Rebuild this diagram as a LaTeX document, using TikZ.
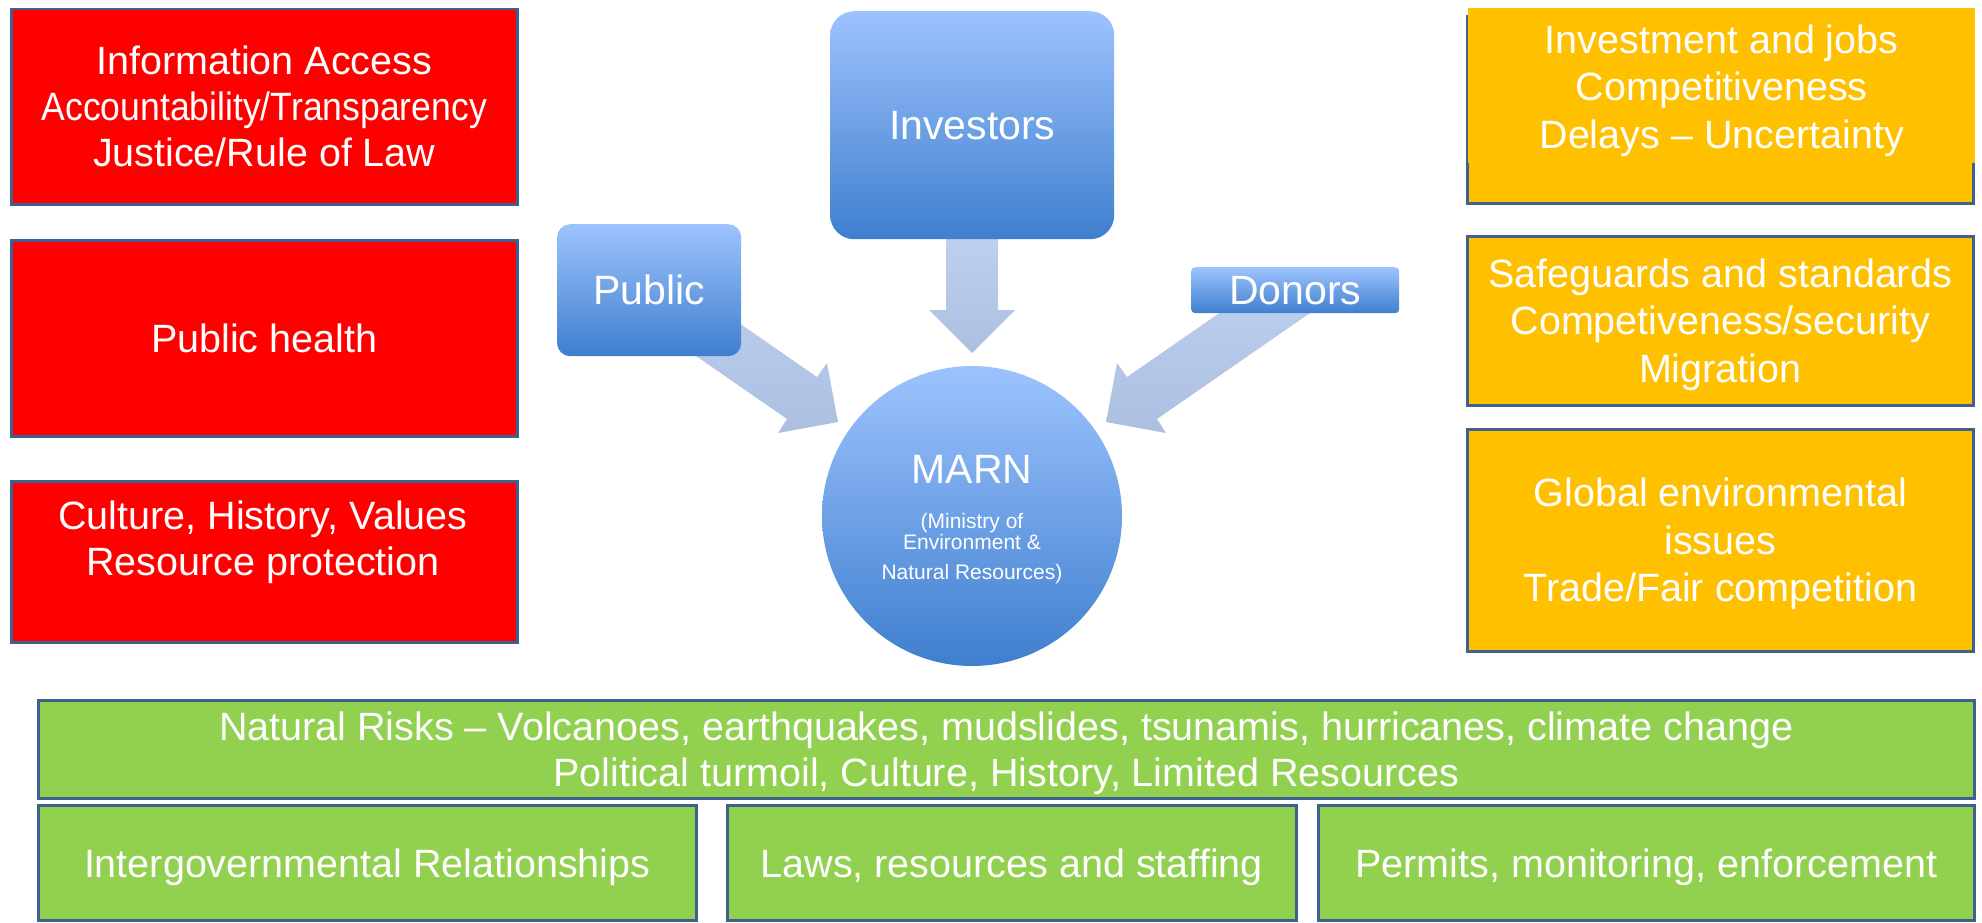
\documentclass[tikz,border=0pt]{standalone}
\usepackage{fontspec}
\setmainfont{Liberation Sans}
\usetikzlibrary{calc}
\definecolor{bord}{HTML}{3F6190}
\definecolor{rbox}{HTML}{FF0000}
\definecolor{obox}{HTML}{FFC000}
\definecolor{gbox}{HTML}{92D050}
\definecolor{btop}{HTML}{9DC3FE}
\definecolor{bbot}{HTML}{3F7FCE}
\definecolor{atop}{HTML}{BFD1F1}
\definecolor{abot}{HTML}{ADBFE0}
\begin{document}
\begin{tikzpicture}[x=1pt,y=-1pt,
  box/.style={draw=bord, line width=2.5pt, inner sep=0pt, anchor=north west},
  plain/.style={inner sep=0pt, text=white, align=center},
  bluebox/.style={top color=btop, bottom color=bbot, draw=none, inner sep=0pt, text=white, align=center, anchor=north west},
  blockarrow/.style={top color=atop, bottom color=abot, draw=none},
  fred/.style={font=\fontsize{39.5}{46}\selectfont},
  fora/.style={font=\fontsize{39.5}{47.5}\selectfont},
  fgreen/.style={font=\fontsize{39.5}{45.5}\selectfont},
  fblue/.style={font=\fontsize{41}{48}\selectfont},
  fsmall/.style={font=\fontsize{21}{21}\selectfont}]
\useasboundingbox (0,0) rectangle (1982,923);

% red boxes
\node[box, fill=rbox, minimum width=506pt, minimum height=195pt] (r1) at (10,8) {};
\node[plain, fred] (r1t) at (r1.center)
  {Information Access\\\scalebox{0.9}[1]{Accountability/Transparency}\\Justice/Rule of Law};
\node[box, fill=rbox, minimum width=506pt, minimum height=196pt] (r2) at (10,239) {};
\node[plain, fred] (r2t) at (r2.center) {Public health};
\node[box, fill=rbox, minimum width=506pt, minimum height=161pt] (r3) at (10,480) {};
\node[plain, fred] (r3t) at (263,542) {Culture, History, Values\\Resource protection};

% orange boxes
\node[box, fill=obox, minimum width=506pt, minimum height=187pt] (o1) at (1466,15) {};
\node[inner sep=0pt, fill=obox, anchor=north west, minimum width=507pt, minimum height=155pt] (o1f) at (1468,8) {};
\node[plain, fora] (o1t) at ($(o1f.center)+(0,5)$) {Investment and jobs\\Competitiveness\\Delays -- Uncertainty};
\node[box, fill=obox, minimum width=506pt, minimum height=169pt] (o2) at (1466,235) {};
\node[plain, fora] (o2t) at ($(o2.center)+(0,4)$) {Safeguards and standards\\Competiveness/security\\Migration};
\node[box, fill=obox, minimum width=506pt, minimum height=222pt] (o3) at (1466,428) {};
\node[plain, fora] (o3t) at ($(o3.center)+(0,4)$) {Global environmental\\issues\\Trade/Fair competition};

% green boxes
\node[box, fill=gbox, minimum width=1936pt, minimum height=98pt] (g1) at (37,699) {};
\node[plain, fgreen] (g1t) at ($(g1.center)+(0,4)$)
  {Natural Risks -- Volcanoes, earthquakes, mudslides, tsunamis, hurricanes, climate change\\Political turmoil, Culture, History, Limited Resources};
\node[box, fill=gbox, minimum width=658pt, minimum height=115pt] (g2) at (37,804) {};
\node[plain, fora] (g2t) at ($(g2.center)+(0,5)$) {Intergovernmental Relationships};
\node[box, fill=gbox, minimum width=569pt, minimum height=115pt] (g3) at (726,804) {};
\node[plain, fora] (g3t) at ($(g3.center)+(0,5)$) {Laws, resources and staffing};
\node[box, fill=gbox, minimum width=656pt, minimum height=115pt] (g4) at (1317,804) {};
\node[plain, fora] (g4t) at ($(g4.center)+(0,5)$) {Permits, monitoring, enforcement};

% MARN circle
\node[circle, top color=btop, bottom color=bbot, draw=none, minimum size=300pt, inner sep=0pt] (marn) at (972,516) {};
\node[plain, fblue] (marnt) at (972,469) {MARN};
\node[plain, fsmall] (marns) at (972,549) {(Ministry of\\Environment \&\\[9pt]Natural Resources)};

% block arrows (drawn before source boxes)
\coordinate (I) at (972,239);
\path[blockarrow] ($(I)+(-26,-9)$) -- ($(I)+(26,-9)$) -- ($(I)+(26,71)$) -- ($(I)+(43,71)$)
  -- ($(I)+(0,114)$) -- ($(I)+(-43,71)$) -- ($(I)+(-26,71)$) -- cycle;
\path[blockarrow] ($(marn.center)+(309.5,-246)$) -- ($(marn.center)+(339.5,-204)$)
  -- ($(marn.center)+(185,-97)$) -- ($(marn.center)+(194,-83)$) -- ($(marn.center)+(134,-94)$)
  -- ($(marn.center)+(145,-153)$) -- ($(marn.center)+(155,-139)$) -- cycle;
\path[blockarrow] ($(marn.center)+(-309.5,-246)$) -- ($(marn.center)+(-339.5,-204)$)
  -- ($(marn.center)+(-185,-97)$) -- ($(marn.center)+(-194,-83)$) -- ($(marn.center)+(-134,-94)$)
  -- ($(marn.center)+(-145,-153)$) -- ($(marn.center)+(-155,-139)$) -- cycle;

% blue source boxes
\node[bluebox, rounded corners=24pt, fblue, minimum width=284pt, minimum height=228pt] (inv) at (830,11) {Investors};
\node[bluebox, rounded corners=13pt, fblue, minimum width=184pt, minimum height=132pt] (pub) at (557,224) {Public};
\node[bluebox, rounded corners=4pt, fblue, minimum width=208pt, minimum height=46pt] (don) at (1191,267) {Donors};
\end{tikzpicture}
\end{document}
